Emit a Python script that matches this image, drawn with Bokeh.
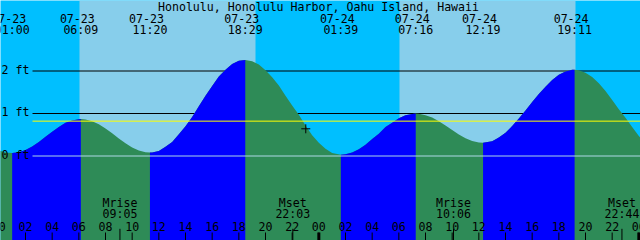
from bokeh.plotting import figure
from bokeh.models import Range1d
from bokeh.core.properties import value
from bokeh.embed import file_html
from bokeh.resources import INLINE

# ---------------- data (hours from 07-23 00:00, heights in ft) ----------------
title = "Honolulu, Honolulu Harbor, Oahu Island, Hawaii"

tide_t = [0, 0.5, 1.0, 1.5, 2, 2.5, 3, 3.5, 4, 4.5, 5, 5.5, 6, 6.15, 6.5, 7, 7.5, 8, 8.5, 9, 9.5,
          10, 10.5, 11, 11.333, 11.5, 12, 12.5, 13, 13.5, 14, 14.5, 15, 15.5, 16, 16.5, 17,
          17.5, 18, 18.483, 19, 19.5, 20, 20.5, 21, 21.5, 22, 22.5, 23, 23.5, 24, 24.5, 25,
          25.65, 26, 26.5, 27, 27.5, 28, 28.5, 29, 29.5, 30, 30.5, 31, 31.267, 31.5, 32, 32.5,
          33, 33.5, 34, 34.5, 35, 35.5, 36, 36.317, 37, 37.5, 38, 38.5, 39, 39.5, 40, 40.5, 41,
          41.5, 42, 42.5, 43, 43.183, 43.5, 44, 44.5, 45, 45.5, 46, 46.5, 47, 47.5, 48, 48.25]
tide_h = [0.13, 0.085, 0.07, 0.088, 0.14, 0.226, 0.33, 0.452, 0.57, 0.684, 0.78, 0.838, 0.865,
          0.87, 0.861, 0.82, 0.745, 0.65, 0.533, 0.41, 0.30, 0.20, 0.13, 0.09, 0.08, 0.083,
          0.12, 0.22, 0.33, 0.51, 0.70, 0.92, 1.17, 1.42, 1.65, 1.87, 2.03, 2.162, 2.24, 2.26,
          2.23, 2.151, 2.02, 1.852, 1.66, 1.419, 1.19, 0.97, 0.72, 0.489, 0.31, 0.17, 0.07,
          0.03, 0.04, 0.084, 0.16, 0.267, 0.40, 0.526, 0.68, 0.781, 0.89, 0.957, 0.99, 1.00,
          0.996, 0.96, 0.903, 0.82, 0.717, 0.61, 0.508, 0.42, 0.354, 0.32, 0.31, 0.35, 0.433,
          0.55, 0.705, 0.88, 1.071, 1.27, 1.46, 1.63, 1.787, 1.91, 1.989, 2.03, 2.03, 2.02,
          1.96, 1.858, 1.71, 1.529, 1.32, 1.098, 0.90, 0.68, 0.47, 0.39]

event_t = [1.0, 6.15, 11.333, 18.483, 25.65, 31.267, 36.317, 43.183]
event_date = ["07-23", "07-23", "07-23", "07-23", "07-24", "07-24", "07-24", "07-24"]
event_time = ["01:00", "06:09", "11:20", "18:29", "01:39", "07:16", "12:19", "19:11"]

sunrise_t = [6.05, 30.05]
sunset_t = [19.25, 43.25]

moon_t = [9.083, 22.05, 34.1, 46.733]
moon_kind = ["Mrise", "Mset", "Mrise", "Mset"]
moon_time = ["09:05", "22:03", "10:06", "22:44"]

hour_t = list(range(0, 50, 2))
hour_lbl = ["%02d" % (h % 24) for h in hour_t]
midnight_t = [24, 48]

level_ft = [0, 1, 2]
level_lbl = ["0 ft", "1 ft", "2 ft"]
msl_ft = 0.82

now_t = 23.02
now_h = 0.64

# ---------------- layout helpers ----------------
W, H = 640, 240
T0 = 0.125
PX_PER_H = W / 48.0
ZERO_PX = 155.5
FT_PX = 42.5


def hy(px):
    return (ZERO_PX - px) / FT_PX


def tx(px):
    return T0 + px / PX_PER_H


FONT = value("DejaVu Sans Mono")
FS = "11.6px"
TXT = dict(text_align="center", text_baseline="middle", text_font=FONT,
           text_font_size=FS, text_color="black")

p = figure(width=W, height=H, x_range=Range1d(T0, T0 + 48), y_range=Range1d(hy(H), hy(0)),
           toolbar_location=None, output_backend="svg", min_border=0,
           x_axis_location=None, y_axis_location=None)
p.xgrid.visible = False
p.ygrid.visible = False
p.outline_line_color = None
p.background_fill_color = "#00BFFF"
p.border_fill_color = "#00BFFF"

# day background
p.quad(left=sunrise_t, right=sunset_t, bottom=hy(H), top=hy(0),
       fill_color="#87CEEB", line_color=None)

# black level lines (behind tide)
p.segment(x0=[tx(32)] * 2, x1=[T0 + 48] * 2, y0=level_ft[1:], y1=level_ft[1:],
          line_color="black", line_width=1)

# tide fill: falling (green) everywhere, rising (blue) on top
p.varea(x=tide_t, y1=hy(H), y2=tide_h, fill_color="#2E8B57")
bounds = [tide_t[0]] + event_t + [tide_t[-1]]
for a, b in zip(bounds[:-1], bounds[1:]):
    idx = [i for i, t in enumerate(tide_t) if a <= t <= b]
    ts = [tide_t[i] for i in idx]
    hs = [tide_h[i] for i in idx]
    if hs[-1] > hs[0]:
        p.varea(x=ts, y1=hy(H), y2=hs, fill_color="#0000FF")

# datum and MSL lines
p.segment(x0=[tx(32)], x1=[T0 + 48], y0=[level_ft[0]], y1=[level_ft[0]],
          line_color="#ADD8E6", line_width=1)
p.segment(x0=[tx(32)], x1=[T0 + 48], y0=[msl_ft], y1=[msl_ft],
          line_color="#FFFF00", line_width=1)

# level labels
p.text(x=[T0] * 3, y=level_ft, text=level_lbl, x_offset=1, y_offset=-1.3,
       **dict(TXT, text_align="left"))

# title
p.text(x=[T0 + 24], y=[hy(6.0)], text=[title], x_offset=-2, **TXT)

# event labels
p.text(x=event_t, y=[hy(17.5)] * len(event_t), text=event_date, x_offset=-3.5, **TXT)
p.text(x=event_t, y=[hy(29.2)] * len(event_t), text=event_time, **TXT)

# hour ticks and labels
p.segment(x0=hour_t, x1=hour_t, y0=[hy(H)] * len(hour_t), y1=[hy(232)] * len(hour_t),
          line_color="black", line_width=1)
p.segment(x0=midnight_t, x1=midnight_t, y0=[hy(H)] * 2, y1=[hy(232)] * 2,
          line_color="black", line_width=3)
p.text(x=hour_t, y=[hy(225.9)] * len(hour_t), text=hour_lbl, **TXT)

# moon events
p.segment(x0=moon_t, x1=moon_t, y0=[hy(H)] * len(moon_t), y1=[hy(228.3)] * len(moon_t),
          line_color="black", line_width=1)
p.text(x=moon_t, y=[hy(202.5)] * len(moon_t), text=moon_kind, **TXT)
p.text(x=moon_t, y=[hy(213.5)] * len(moon_t), text=moon_time, **TXT)

# current time marker
p.scatter(x=[now_t], y=[now_h], marker="cross", size=9, line_color="black", line_width=1)

open("out.html", "w").write(file_html(p, INLINE))
